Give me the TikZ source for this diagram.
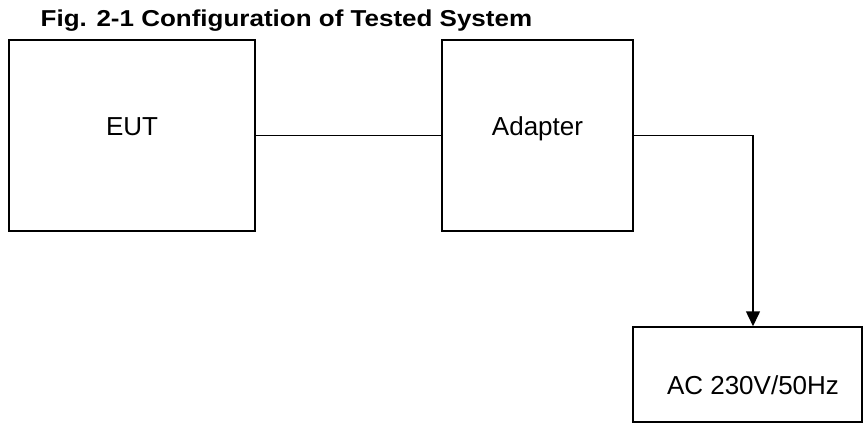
\documentclass[tikz,border=0pt]{standalone}
\usepackage{fontspec}
\setmainfont{Liberation Sans}
\usetikzlibrary{arrows.meta}
\begin{document}
\begin{tikzpicture}[x=1pt,y=-1pt,
  box/.style={draw, line width=1.5pt, inner sep=0pt, font=\fontsize{26}{30}\selectfont, text height=10pt, text depth=10pt},
  wire/.style={line width=1.5pt},
  title/.style={anchor=base west, inner sep=0pt, font=\bfseries\fontsize{23}{27}\selectfont}]
\useasboundingbox (0,0) rectangle (864,423);
\node[title] (ttl) at (40.5,27) {\scalebox{1.13}[1]{Fig. 2-1 Configuration of Tested System}};
\node[box, minimum width=246pt, minimum height=191pt] (eut) at (132,135.5) {EUT};
\node[box, minimum width=191pt, minimum height=191pt] (ad) at (537.5,135.5) {Adapter};
\node[box, minimum width=229pt, minimum height=95pt, text height=39pt, text depth=0pt] (ac) at (747.5,374.5) {\hspace*{11pt}AC 230V/50Hz};
\draw[wire] (eut.east) -- (ad.west);
\draw[wire, -{Triangle[width=14pt,length=15pt]}] (ad.east) -| ([xshift=5.5pt]ac.north);
\end{tikzpicture}
\end{document}
